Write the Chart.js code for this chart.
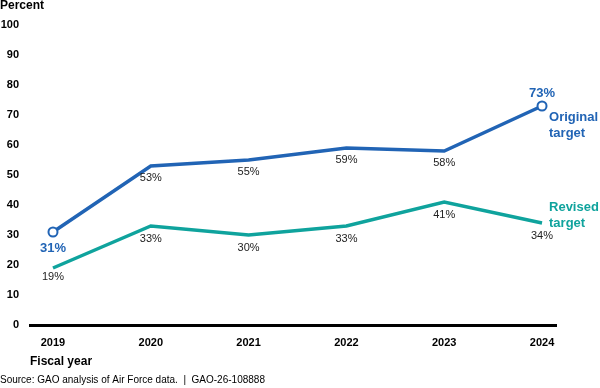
<!DOCTYPE html>
<html>
<head>
<meta charset="utf-8">
<script src="https://cdn.jsdelivr.net/npm/chart.js@4/dist/chart.umd.min.js"></script>
<style>
  html, body { margin: 0; padding: 0; background: #fff; }
  #wrap { width: 600px; height: 388px; position: relative; }
</style>
</head>
<body>
<div id="wrap"><canvas id="chart-line"></canvas></div>
<script>
const years = [2019, 2020, 2021, 2022, 2023, 2024];
const originalTarget = [31, 53, 55, 59, 58, 73];
const revisedTarget = [19, 33, 30, 33, 41, 34];
const yTicks = [0, 10, 20, 30, 40, 50, 60, 70, 80, 90, 100];

const BLUE = '#2164b5';
const TEAL = '#0fa39d';
const FONT = '"Liberation Sans", Arial, sans-serif';

// nhãn % cho từng điểm + tên series
const labelPlugin = {
    id: 'labels',
    afterDatasetsDraw(chart) {
        const ctx = chart.ctx;
        const xs = chart.scales.x;
        const ys = chart.scales.y;
        ctx.save();
        ctx.textAlign = 'center';
        ctx.textBaseline = 'middle';

        originalTarget.forEach((v, i) => {
            const px = xs.getPixelForValue(years[i]);
            const py = ys.getPixelForValue(v);
            const ends = i === 0 || i === years.length - 1;
            if (ends) {
                ctx.font = 'bold 13px ' + FONT;
                ctx.fillStyle = BLUE;
                ctx.fillText(v + '%', px, i === 0 ? py + 16 : py - 13);
            } else {
                ctx.font = '11px ' + FONT;
                ctx.fillStyle = '#222';
                ctx.fillText(v + '%', px, py + 12);
            }
        });

        revisedTarget.forEach((v, i) => {
            const px = xs.getPixelForValue(years[i]);
            const py = ys.getPixelForValue(v);
            ctx.font = '11px ' + FONT;
            ctx.fillStyle = '#222';
            ctx.fillText(v + '%', px, py + (i === 0 ? 9 : 13));
        });

        // tên series bên phải
        const last = years.length - 1;
        const lx = xs.getPixelForValue(years[last]) + 7;
        ctx.textAlign = 'left';
        ctx.font = 'bold 13px ' + FONT;
        ctx.fillStyle = BLUE;
        let oy = ys.getPixelForValue(originalTarget[last]);
        ctx.fillText('Original', lx, oy + 11);
        ctx.fillText('target', lx, oy + 27);
        ctx.fillStyle = TEAL;
        let ry = ys.getPixelForValue(revisedTarget[last]);
        ctx.fillText('Revised', lx, ry - 16);
        ctx.fillText('target', lx, ry);

        // tiêu đề trục + nguồn
        ctx.fillStyle = '#000';
        ctx.font = 'bold 12px ' + FONT;
        ctx.fillText('Percent', 0, 6);
        ctx.font = 'bold 12px ' + FONT;
        ctx.fillText('Fiscal year', chart.chartArea.left, 362);
        ctx.font = '10px ' + FONT;
        ctx.fillText('Source: GAO analysis of Air Force data.  |  GAO-26-108888', 0, 380);
        ctx.restore();
    }
};

const ctx = document.getElementById('chart-line');
new Chart(ctx, {
    type: 'line',
    data: {
        datasets: [{
            label: 'Original target',
            data: years.map((y, i) => ({ x: y, y: originalTarget[i] })),
            borderColor: BLUE,
            borderWidth: 3.5,
            backgroundColor: '#fff',
            pointRadius: years.map((y, i) => (i === 0 || i === years.length - 1) ? 4.5 : 0),
            pointBorderWidth: 2,
            pointBorderColor: BLUE,
            pointBackgroundColor: '#fff',
            tension: 0,
            order: 1
        }, {
            label: 'Revised target',
            data: years.map((y, i) => ({ x: y, y: revisedTarget[i] })),
            borderColor: TEAL,
            borderWidth: 3.5,
            pointRadius: 0,
            tension: 0,
            order: 2
        }]
    },
    options: {
        responsive: true,
        maintainAspectRatio: false,
        animation: false,
        layout: { padding: { top: 25, right: 44, left: 0, bottom: 0 } },
        scales: {
            x: {
                type: 'linear',
                min: years[0] - 0.235,
                max: years[years.length - 1] + 0.143,
                afterBuildTicks: (s) => { s.ticks = years.map(v => ({ value: v })); },
                afterFit: (s) => { s.height = 63; },
                border: { display: true, color: '#000', width: 3 },
                grid: { display: false, drawTicks: false },
                ticks: {
                    padding: 11,
                    color: '#000',
                    font: { family: FONT, size: 11, weight: 'bold' },
                    callback: (v) => String(v)
                }
            },
            y: {
                min: 0,
                max: 100,
                afterBuildTicks: (s) => { s.ticks = yTicks.map(v => ({ value: v })); },
                afterFit: (s) => { s.width = 30; },
                border: { display: false },
                grid: { display: false, drawTicks: false },
                ticks: {
                    padding: 11,
                    color: '#000',
                    font: { family: FONT, size: 11, weight: 'bold' }
                }
            }
        },
        plugins: {
            legend: { display: false },
            tooltip: { enabled: false }
        }
    },
    plugins: [labelPlugin]
});
</script>
</body>
</html>
